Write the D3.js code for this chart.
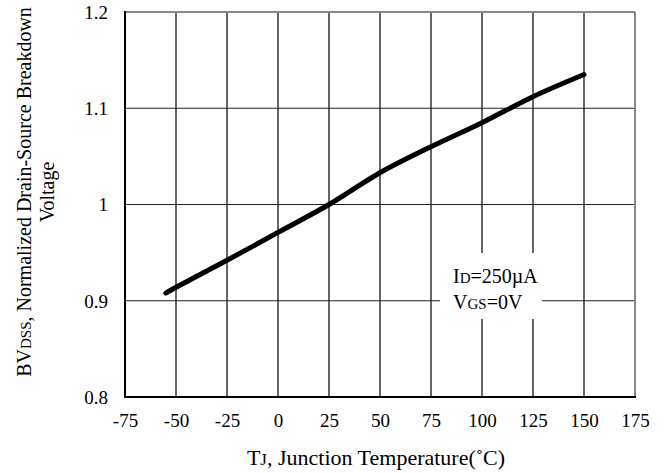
<!DOCTYPE html>
<html><head><meta charset="utf-8">
<script src="https://cdn.jsdelivr.net/npm/d3@7"></script>
<style>body{margin:0;background:#fff}svg{display:block}text{font-family:"Liberation Serif","Times New Roman",serif;fill:#000}</style>
</head><body>
<script>
const temps = [-55, -50, -25, 0, 25, 50, 75, 100, 125, 150];
const bvdss = [0.908, 0.914, 0.942, 0.971, 1.000, 1.033, 1.060, 1.085, 1.112, 1.135];
const xTicks = [-75, -50, -25, 0, 25, 50, 75, 100, 125, 150, 175];
const yTicks = [0.8, 0.9, 1.0, 1.1, 1.2];
const yTickLabels = ["0.8", "0.9", "1", "1.1", "1.2"];

const W = 664, H = 473;
const m = {l:125, r:635, t:12, b:397};
const svg = d3.select("body").append("svg").attr("width", W).attr("height", H);
const x = d3.scaleLinear().domain([-75, 175]).range([m.l, m.r]);
const y = d3.scaleLinear().domain([0.8, 1.2]).range([m.b, m.t]);

// grid
svg.append("g").selectAll("line").data(xTicks.slice(1, -1)).join("line")
  .attr("x1", d => x(d)).attr("x2", d => x(d)).attr("y1", m.t).attr("y2", m.b)
  .attr("stroke", "#000").attr("stroke-width", 1.2);
svg.append("g").selectAll("line").data(yTicks.slice(1, -1)).join("line")
  .attr("x1", m.l).attr("x2", m.r).attr("y1", d => y(d)).attr("y2", d => y(d))
  .attr("stroke", "#222").attr("stroke-width", 1.2);

// frame
svg.append("line").attr("x1", m.l).attr("x2", m.r).attr("y1", m.t).attr("y2", m.t).attr("stroke", "#888").attr("stroke-width", 2);
svg.append("line").attr("x1", m.r).attr("x2", m.r).attr("y1", m.t).attr("y2", m.b).attr("stroke", "#888").attr("stroke-width", 2);
svg.append("line").attr("x1", m.l).attr("x2", m.l).attr("y1", m.t - 1).attr("y2", m.b + 1).attr("stroke", "#000").attr("stroke-width", 2);
svg.append("line").attr("x1", m.l).attr("x2", m.r + 1).attr("y1", m.b).attr("y2", m.b).attr("stroke", "#000").attr("stroke-width", 2);

// axes labels via d3 axes
const xAxis = d3.axisBottom(x).tickValues(xTicks).tickSize(0).tickPadding(22).tickFormat(d => String(d));
const gx = svg.append("g").attr("transform", `translate(0,${m.b})`).call(xAxis);
gx.select(".domain").remove();
gx.selectAll("text").attr("font-size", 19).attr("font-family", "Liberation Serif").attr("dy", 0).attr("y", 30);

const yAxis = d3.axisLeft(y).tickValues(yTicks).tickSize(0).tickPadding(17).tickFormat((d, i) => yTickLabels[i]);
const gy = svg.append("g").attr("transform", `translate(${m.l},0)`).call(yAxis);
gy.select(".domain").remove();
gy.selectAll("text").attr("font-size", 19).attr("font-family", "Liberation Serif").attr("dy", "0.34em");

// curve
const line = d3.line().x((d, i) => x(temps[i])).y(d => y(d)).curve(d3.curveCatmullRom);
svg.append("path").datum(bvdss).attr("d", line).attr("fill", "none")
  .attr("stroke", "#000").attr("stroke-width", 5).attr("stroke-linecap", "round");

// legend box
svg.append("rect").attr("x", 440).attr("y", 253).attr("width", 102).attr("height", 66).attr("fill", "#fff");
const t1 = svg.append("text").attr("x", 453).attr("y", 283).attr("font-size", 20);
t1.append("tspan").text("I");
t1.append("tspan").attr("font-size", 15).text("D");
t1.append("tspan").text("=250µA");
const t2 = svg.append("text").attr("x", 453).attr("y", 309).attr("font-size", 20);
t2.append("tspan").text("V");
t2.append("tspan").attr("font-size", 15).text("GS");
t2.append("tspan").text("=0V");

// x title
const xt = svg.append("text").attr("x", 376).attr("y", 465).attr("text-anchor", "middle").attr("font-size", 22);
xt.append("tspan").text("T");
xt.append("tspan").attr("font-size", 17).text("J");
xt.append("tspan").text(", Junction Temperature(˚C)");

// y title
const yt = svg.append("text").attr("transform", "translate(31,192) rotate(-90)").attr("text-anchor", "middle").attr("font-size", 20);
yt.append("tspan").text("BV");
yt.append("tspan").attr("font-size", 15).text("DSS");
yt.append("tspan").text(", Normalized Drain-Source Breakdown");
svg.append("text").attr("transform", "translate(54,192) rotate(-90)").attr("text-anchor", "middle").attr("font-size", 20).text("Voltage");
</script>
</body></html>
